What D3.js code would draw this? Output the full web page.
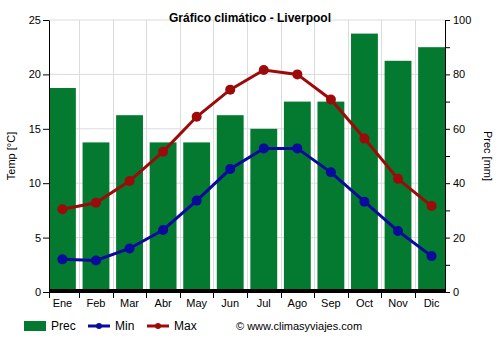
<!DOCTYPE html>
<html><head><meta charset="utf-8">
<script src="https://cdn.jsdelivr.net/npm/d3@7"></script>
<style>body{margin:0;background:#fff}svg{display:block;font-family:"Liberation Sans",Arial,sans-serif}</style>
</head><body><svg id="c" width="500" height="350"></svg>
<script>
const months = ["Ene","Feb","Mar","Abr","May","Jun","Jul","Ago","Sep","Oct","Nov","Dic"];
const prec = [75,55,65,55,55,65,60,70,70,95,85,90];
const tmin = [3.0,2.9,4.0,5.7,8.4,11.3,13.2,13.2,11.0,8.3,5.6,3.3];
const tmax = [7.6,8.2,10.2,12.9,16.1,18.6,20.4,20.0,17.7,14.1,10.4,7.9];
const tempTicks = [0,5,10,15,20,25];
const precTicks = [0,20,40,60,80,100];

const svg = d3.select("#c");
const L=49,R=445,T=20,B=292;
const x = d3.scaleBand().domain(months).range([L,R]).paddingInner(0.2).paddingOuter(0);
const step = x.step();
const yT = d3.scaleLinear().domain([0,25]).range([B,T]);
const yP = d3.scaleLinear().domain([0,100]).range([B,T]);
const cx = m => x(m)+x.bandwidth()/2;

// grid
const g = svg.append("g");
g.selectAll("line.h").data(tempTicks).join("line")
  .attr("x1",L).attr("x2",R).attr("y1",d=>yT(d)).attr("y2",d=>yT(d))
  .attr("stroke","#dcdcdc").attr("stroke-width",1);
g.selectAll("line.v").data(months.slice(1)).join("line")
  .attr("x1",d=>Math.round(x(d)-x.step()*0.1)+0.5).attr("x2",d=>Math.round(x(d)-x.step()*0.1)+0.5)
  .attr("y1",T).attr("y2",B).attr("stroke","#dcdcdc");

// bars
svg.append("g").selectAll("rect").data(prec).join("rect")
  .attr("x",(d,i)=>x(months[i])).attr("width",x.bandwidth())
  .attr("y",d=>yP(d)).attr("height",d=>B-yP(d)).attr("fill","#037a2f");
svg.append("rect").attr("x",L).attr("y",B-3).attr("width",R-L).attr("height",3).attr("fill","#000");

// lines
function series(data,color){
  const line=d3.line().x((d,i)=>cx(months[i])).y(d=>yT(d));
  svg.append("path").datum(data).attr("d",line).attr("fill","none").attr("stroke",color).attr("stroke-width",3);
  svg.append("g").selectAll("circle").data(data).join("circle")
    .attr("cx",(d,i)=>cx(months[i])).attr("cy",d=>yT(d)).attr("r",5).attr("fill",color);
}
series(tmin,"#0a0a9c");
series(tmax,"#9c0a0a");

// axes
const axL = d3.axisLeft(yT).tickValues(tempTicks).tickSize(6).tickSizeOuter(0);
const gl = svg.append("g").attr("transform",`translate(${L},0)`).call(axL);
const axR = d3.axisRight(yP).tickValues(d3.range(0,101,10)).tickSize(5).tickSizeOuter(0)
  .tickFormat(d=>precTicks.includes(d)?d:"");
const gr = svg.append("g").attr("transform",`translate(${R},0)`).call(axR);
const axB = d3.axisBottom(x).tickSize(0).tickSizeOuter(0);
const gb = svg.append("g").attr("transform",`translate(0,${B})`).call(axB);
gb.select(".domain").remove();
svg.append("line").attr("x1",L).attr("x2",R).attr("y1",B+0.5).attr("y2",B+0.5).attr("stroke","#000");
svg.append("g").selectAll("line").data(months).join("line")
  .attr("x1",d=>Math.round(x(d)-(d==="Ene"?0:x.step()*0.1))+0.5).attr("x2",d=>Math.round(x(d)-(d==="Ene"?0:x.step()*0.1))+0.5)
  .attr("y1",B).attr("y2",B+6).attr("stroke","#000");
[gl,gr,gb].forEach(a=>{a.selectAll("text").attr("font-size",11).attr("fill","#000").attr("font-family","Liberation Sans, Arial, sans-serif");
  a.selectAll("line,path").attr("stroke","#000");});
gb.selectAll("text").attr("dy","1.1em");
gl.selectAll("text").attr("x",-8);
gr.selectAll("text").attr("x",8);

// titles
svg.append("text").attr("x",250).attr("y",22).attr("text-anchor","middle").attr("font-size",12).attr("font-weight","bold").text("Gráfico climático - Liverpool");
svg.append("text").attr("transform","translate(15,156) rotate(-90)").attr("text-anchor","middle").attr("font-size",11).text("Temp [°C]");
svg.append("text").attr("transform","translate(484,156) rotate(90)").attr("text-anchor","middle").attr("font-size",11).text("Prec [mm]");

// legend
const lg = svg.append("g").attr("font-size",12);
lg.append("rect").attr("x",24).attr("y",321).attr("width",22).attr("height",10).attr("fill","#037a2f");
lg.append("text").attr("x",51).attr("y",330).text("Prec");
[[88,"#0a0a9c","Min"],[147,"#9c0a0a","Max"]].forEach(([lx,c,t])=>{
  lg.append("line").attr("x1",lx).attr("x2",lx+22).attr("y1",326).attr("y2",326).attr("stroke",c).attr("stroke-width",3);
  lg.append("circle").attr("cx",lx+11).attr("cy",326).attr("r",3).attr("fill",c);
  lg.append("text").attr("x",lx+27).attr("y",330).text(t);
});
lg.append("text").attr("x",236).attr("y",330).attr("font-size",11).text("© www.climasyviajes.com");
</script></body></html>
